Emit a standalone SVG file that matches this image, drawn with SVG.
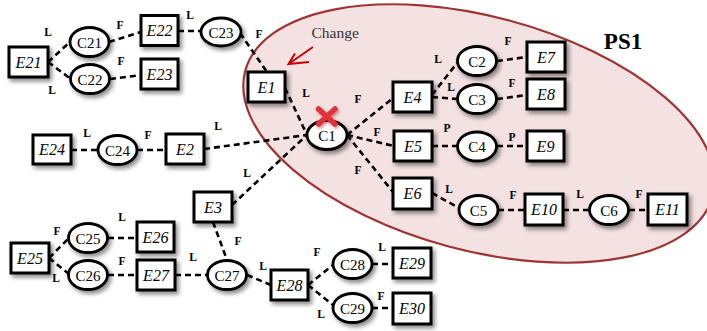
<svg xmlns="http://www.w3.org/2000/svg" width="707" height="331" viewBox="0 0 707 331" font-family="Liberation Serif, Times New Roman, serif">
<defs>
<filter id="sh" x="-30%" y="-30%" width="170%" height="180%">
<feDropShadow dx="2.5" dy="3" stdDeviation="2" flood-color="#000" flood-opacity="0.45"/>
</filter>
<filter id="xs" x="-50%" y="-50%" width="200%" height="200%">
<feDropShadow dx="1.5" dy="2" stdDeviation="1.5" flood-color="#800" flood-opacity="0.4"/>
</filter>
</defs>
<style>
.e rect{fill:#fff;stroke:#000;stroke-width:3;filter:url(#sh)}
.c ellipse{fill:#fff;stroke:#000;stroke-width:2.8;filter:url(#sh)}
.et{font-style:italic;font-size:16px;text-anchor:middle;fill:#000}
.ct{font-size:15px;text-anchor:middle;fill:#000}
.lb{font-weight:bold;font-size:11.5px;text-anchor:middle;fill:#000}
#links line{stroke:#000;stroke-width:2.6;stroke-dasharray:6 4;fill:none}
</style>
<rect width="707" height="331" fill="#fff"/>
<ellipse id="PS1-area" cx="479" cy="133.5" rx="242" ry="117" transform="rotate(15 479 133.5)" fill="#f4e1e1" stroke="#9e3434" stroke-width="2.2"/>
<text x="623" y="49" font-weight="bold" font-size="23" text-anchor="middle">PS1</text>

<g id="links">
<line x1="48" y1="62" x2="70" y2="42"/>
<line x1="48" y1="62" x2="71" y2="79"/>
<line x1="109" y1="42" x2="141" y2="32"/>
<line x1="110" y1="79" x2="141" y2="75"/>
<line x1="178" y1="31" x2="201" y2="31"/>
<line x1="240" y1="33" x2="267" y2="72"/>
<line x1="285" y1="88" x2="307" y2="135"/>
<line x1="71" y1="150" x2="98" y2="150"/>
<line x1="137" y1="150" x2="166" y2="150"/>
<line x1="204" y1="149" x2="307" y2="135"/>
<line x1="232" y1="205" x2="307" y2="135"/>
<line x1="347" y1="135" x2="393" y2="98"/>
<line x1="347" y1="135" x2="394" y2="146"/>
<line x1="347" y1="135" x2="393" y2="192"/>
<line x1="432" y1="95" x2="457" y2="63"/>
<line x1="432" y1="97" x2="457" y2="99"/>
<line x1="497" y1="61" x2="527" y2="57"/>
<line x1="497" y1="99" x2="527" y2="95"/>
<line x1="432" y1="146" x2="457" y2="146"/>
<line x1="497" y1="146" x2="527" y2="146"/>
<line x1="432" y1="193" x2="459" y2="208"/>
<line x1="498" y1="210" x2="525" y2="210"/>
<line x1="563" y1="210" x2="590" y2="210"/>
<line x1="629" y1="210" x2="648" y2="210"/>
<line x1="49" y1="258" x2="69" y2="238"/>
<line x1="49" y1="258" x2="69" y2="274"/>
<line x1="108" y1="238" x2="137" y2="238"/>
<line x1="108" y1="275" x2="137" y2="275"/>
<line x1="175" y1="275" x2="207" y2="275"/>
<line x1="213" y1="222" x2="227" y2="260"/>
<line x1="247" y1="275" x2="271" y2="285"/>
<line x1="308" y1="285" x2="333" y2="265"/>
<line x1="308" y1="285" x2="333" y2="305"/>
<line x1="372" y1="264" x2="393" y2="264"/>
<line x1="372" y1="308" x2="393" y2="308"/>
</g>

<g id="E21" class="e"><rect x="9" y="47" width="39" height="30"/><text class="et" x="28.5" y="67.5">E21</text></g>
<g id="C21" class="c"><ellipse cx="89.5" cy="42" rx="19.5" ry="14.5"/><text class="ct" x="89.5" y="47.5">C21</text></g>
<g id="C22" class="c"><ellipse cx="90" cy="79" rx="19.5" ry="14.5"/><text class="ct" x="90" y="84.5">C22</text></g>
<g id="E22" class="e"><rect x="141" y="15.5" width="37" height="30"/><text class="et" x="159.5" y="36">E22</text></g>
<g id="E23" class="e"><rect x="141" y="59" width="37" height="30"/><text class="et" x="159.5" y="79.5">E23</text></g>
<g id="C23" class="c"><ellipse cx="221" cy="32" rx="20" ry="14"/><text class="ct" x="221" y="37.5">C23</text></g>
<g id="E1" class="e"><rect x="248" y="72" width="37" height="30"/><text class="et" x="266.5" y="92.5">E1</text></g>
<g id="C1" class="c"><ellipse cx="327" cy="135" rx="20" ry="14.5"/><text class="ct" x="327" y="140.5">C1</text></g>
<g id="E24" class="e"><rect x="33" y="135" width="38" height="29"/><text class="et" x="52" y="155">E24</text></g>
<g id="C24" class="c"><ellipse cx="117.5" cy="150" rx="19.5" ry="14.5"/><text class="ct" x="117.5" y="155.5">C24</text></g>
<g id="E2" class="e"><rect x="166" y="134" width="38" height="30"/><text class="et" x="185" y="154.5">E2</text></g>
<g id="E3" class="e"><rect x="194" y="192" width="38" height="30"/><text class="et" x="213" y="212.5">E3</text></g>
<g id="E4" class="e"><rect x="393" y="82" width="39" height="30"/><text class="et" x="412.5" y="102.5">E4</text></g>
<g id="C2" class="c"><ellipse cx="477" cy="61" rx="19.5" ry="14.5"/><text class="ct" x="477" y="66.5">C2</text></g>
<g id="C3" class="c"><ellipse cx="477" cy="99" rx="19.5" ry="14.5"/><text class="ct" x="477" y="104.5">C3</text></g>
<g id="E7" class="e"><rect x="527" y="42" width="38" height="30"/><text class="et" x="546" y="62.5">E7</text></g>
<g id="E8" class="e"><rect x="527" y="79" width="38" height="30"/><text class="et" x="546" y="99.5">E8</text></g>
<g id="E5" class="e"><rect x="394" y="131" width="38" height="30"/><text class="et" x="413" y="151.5">E5</text></g>
<g id="C4" class="c"><ellipse cx="477" cy="146.5" rx="19.5" ry="14.5"/><text class="ct" x="477" y="152">C4</text></g>
<g id="E9" class="e"><rect x="527" y="131" width="37" height="30"/><text class="et" x="545.5" y="151.5">E9</text></g>
<g id="E6" class="e"><rect x="393" y="178" width="39" height="31"/><text class="et" x="412.5" y="199">E6</text></g>
<g id="C5" class="c"><ellipse cx="478.5" cy="210" rx="19.5" ry="14.5"/><text class="ct" x="478.5" y="215.5">C5</text></g>
<g id="E10" class="e"><rect x="525" y="194" width="38" height="31"/><text class="et" x="544" y="215">E10</text></g>
<g id="C6" class="c"><ellipse cx="609" cy="210" rx="19.5" ry="14.5"/><text class="ct" x="609" y="215.5">C6</text></g>
<g id="E11" class="e"><rect x="648" y="194" width="39" height="31"/><text class="et" x="667.5" y="215">E11</text></g>
<g id="E25" class="e"><rect x="11" y="243" width="38" height="30"/><text class="et" x="30" y="263.5">E25</text></g>
<g id="C25" class="c"><ellipse cx="88" cy="238" rx="19.5" ry="14.5"/><text class="ct" x="88" y="243.5">C25</text></g>
<g id="C26" class="c"><ellipse cx="88" cy="275" rx="19.5" ry="14.5"/><text class="ct" x="88" y="280.5">C26</text></g>
<g id="E26" class="e"><rect x="137" y="222" width="37" height="30"/><text class="et" x="155.5" y="242.5">E26</text></g>
<g id="E27" class="e"><rect x="137" y="260" width="38" height="30"/><text class="et" x="156" y="280.5">E27</text></g>
<g id="C27" class="c"><ellipse cx="227" cy="275" rx="19.5" ry="14.5"/><text class="ct" x="227" y="280.5">C27</text></g>
<g id="E28" class="e"><rect x="271" y="270" width="37" height="30"/><text class="et" x="289.5" y="290.5">E28</text></g>
<g id="C28" class="c"><ellipse cx="352.5" cy="264" rx="19.5" ry="14.5"/><text class="ct" x="352.5" y="269.5">C28</text></g>
<g id="C29" class="c"><ellipse cx="352.5" cy="308" rx="19.5" ry="14.5"/><text class="ct" x="352.5" y="313.5">C29</text></g>
<g id="E29" class="e"><rect x="393" y="248" width="38" height="30"/><text class="et" x="412" y="268.5">E29</text></g>
<g id="E30" class="e"><rect x="393" y="293" width="38" height="31"/><text class="et" x="412" y="314">E30</text></g>

<g id="labels">
<text class="lb" x="48" y="35.5">L</text>
<text class="lb" x="52" y="93.5">L</text>
<text class="lb" x="120" y="28.5">F</text>
<text class="lb" x="121" y="64.5">F</text>
<text class="lb" x="190" y="18.5">L</text>
<text class="lb" x="259" y="37.5">F</text>
<text class="lb" x="306" y="96.5">L</text>
<text class="lb" x="87" y="136.5">L</text>
<text class="lb" x="148" y="138.5">F</text>
<text class="lb" x="218" y="129.5">L</text>
<text class="lb" x="247" y="176.5">L</text>
<text class="lb" x="358" y="102.5">F</text>
<text class="lb" x="377" y="135.5">F</text>
<text class="lb" x="358" y="173.5">F</text>
<text class="lb" x="438" y="62.5">L</text>
<text class="lb" x="451" y="90.5">L</text>
<text class="lb" x="508" y="44.5">F</text>
<text class="lb" x="512" y="86.5">F</text>
<text class="lb" x="447" y="131.5">P</text>
<text class="lb" x="512" y="140.5">P</text>
<text class="lb" x="449" y="192.5">L</text>
<text class="lb" x="513" y="198.5">F</text>
<text class="lb" x="580" y="197.5">L</text>
<text class="lb" x="639" y="197.5">F</text>
<text class="lb" x="57" y="234.5">F</text>
<text class="lb" x="56" y="281.5">L</text>
<text class="lb" x="122" y="220.5">L</text>
<text class="lb" x="122" y="264.5">F</text>
<text class="lb" x="193" y="260.5">L</text>
<text class="lb" x="238" y="244.5">F</text>
<text class="lb" x="263" y="269.5">L</text>
<text class="lb" x="317" y="255.5">F</text>
<text class="lb" x="321" y="317.5">L</text>
<text class="lb" x="382" y="250.5">L</text>
<text class="lb" x="381" y="299.5">F</text>
</g>

<g id="change">
<text x="311.5" y="38" font-size="15.5" fill="#333">Change</text>
<path d="M313,47 L288.5,64 M295,53.5 L288.5,64 L309,62" fill="none" stroke="#c80000" stroke-width="2"/>
</g>
<g id="cross" filter="url(#xs)">
<path d="M318.5,109 L335,124 M335,109 L318.5,124" stroke="#e0303a" stroke-width="5.5" stroke-linecap="round"/>
</g>
</svg>
